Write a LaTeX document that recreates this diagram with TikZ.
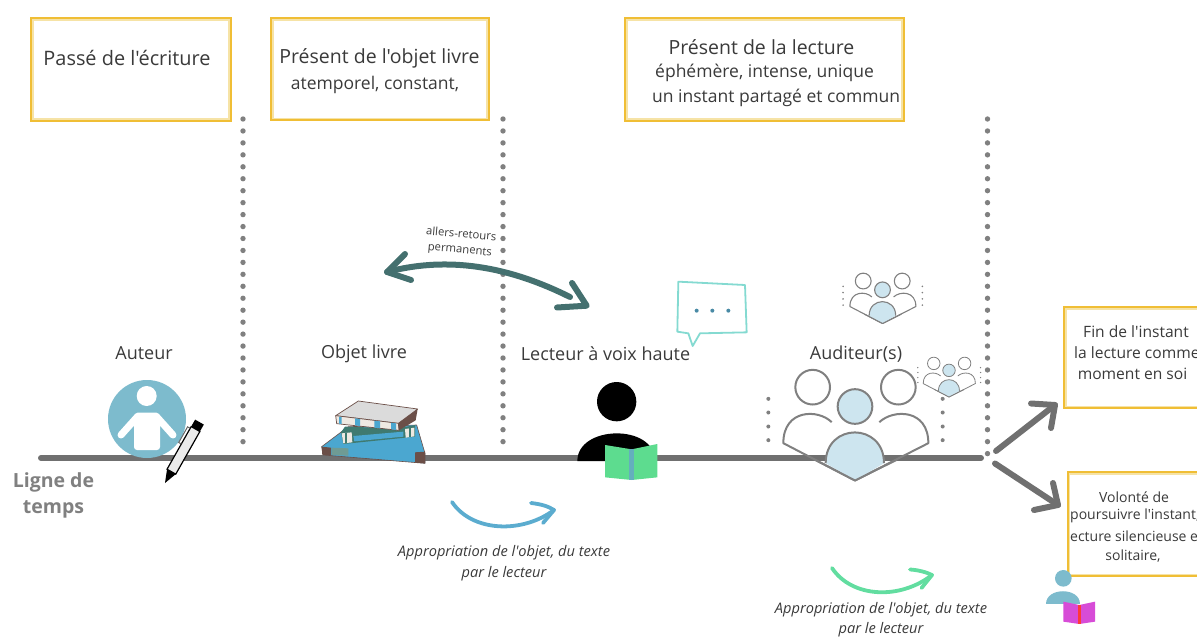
\documentclass[tikz,border=0pt]{standalone}
\usepackage{fontspec}
\setmainfont{Open Sans}[Ligatures=TeXOff]
\usetikzlibrary{calc}
\definecolor{gold}{HTML}{F0BE35}
\definecolor{paleg}{HTML}{F6E3A6}
\definecolor{ink}{HTML}{3A3A3A}
\definecolor{timeg}{HTML}{707070}
\definecolor{dotg}{HTML}{808080}
\definecolor{tealdark}{HTML}{44706F}
\definecolor{authorblue}{HTML}{7DBBCD}
\definecolor{iceblue}{HTML}{CDE5EF}
\definecolor{bookgreen}{HTML}{5DDC8F}
\definecolor{arrowblue}{HTML}{5BACCF}
\definecolor{arrowgreen}{HTML}{62DDA0}
\definecolor{bubble}{HTML}{84DAD1}
\definecolor{bookblue}{HTML}{4BA7D0}
\definecolor{bookbrown}{HTML}{6B4F48}
\definecolor{bookgrn}{HTML}{3F7A70}
\definecolor{bookpage}{HTML}{EFE9E2}
\tikzset{
  framebox/.style={draw=gold,line width=2.4pt,fill=white,inner sep=0pt,anchor=north west},
  innerframe/.style={draw=paleg,line width=1.6pt},
  boxtxt/.style={text=ink,font=\fontsize{19.5}{23}\selectfont,inner sep=0pt},
  subtxt/.style={text=ink,font=\fontsize{17.5}{20}\selectfont,inner sep=0pt},
  sidetxt/.style={text=ink,font=\fontsize{15.6}{18}\selectfont,inner sep=0pt},
  sidetxtb/.style={text=ink,font=\fontsize{14}{18}\selectfont,inner sep=0pt},
  lbl/.style={text=ink,font=\fontsize{18}{20}\selectfont,inner sep=0pt},
  note/.style={text=ink,font=\itshape\fontsize{14.6}{20.5}\selectfont,inner sep=0pt,align=center},
  dotline/.style={dotg,line width=5.4pt,line cap=round,dash pattern=on 0pt off 11.95pt},
  thick arrow/.style={line width=6pt,line cap=round,line join=round},
  curve arrow/.style={line width=3.8pt,line cap=round,line join=round},
}
\newcommand{\framedbox}[5]{% name x y w h
  \node[framebox,minimum width=#4pt,minimum height=#5pt] (#1) at (#2,#3) {};
  \draw[innerframe] ($(#1.north west)+(3pt,-2.8pt)$) rectangle ($(#1.south east)+(-3pt,2.8pt)$);
}
\newcommand{\audience}[4]{% x y(bottom tip) scale line width
  \begin{scope}[shift={(#1,#2)},x=#3pt/3,y=-#3pt/3,line width=#4pt]
    \draw[dotg] (-127,-280) circle[radius=52];
    \draw[dotg] (130,-280) circle[radius=52];
    \draw[dotg,line join=round] (-70,-175) .. controls (-110,-215) and (-215,-215) .. (-215,-112) -- (0,0) -- (220,-112) .. controls (220,-215) and (115,-215) .. (73,-175);
    \fill[iceblue] (-88,-52) .. controls (-88,-175) and (87,-175) .. (87,-52) -- (0,0) -- cycle;
    \draw[dotg] (-88,-52) .. controls (-88,-175) and (87,-175) .. (87,-52);
    \draw[dotg,line join=round] (-120,-62) -- (0,0) -- (125,-62);
    \draw[dotg,fill=iceblue] (0,-222) circle[radius=52];
    \foreach \yy in {-245,-204,-162,-121}{
      \fill[dotg] (-260,\yy) circle[radius=6];
      \fill[dotg] (263,\yy) circle[radius=6];
    }
  \end{scope}
}
\begin{document}
\begin{tikzpicture}[x=1pt,y=-1pt]
\useasboundingbox (0,0) rectangle (1197,637);
\clip (0,0) rectangle (1197,637);

% frames
\framedbox{passe}{30}{17.2}{199.5}{102}
\framedbox{objet}{270}{17.2}{217.5}{101.5}
\framedbox{lecture}{624}{17.2}{278.5}{102}
\framedbox{fin}{1063}{306}{150}{101}
\framedbox{volonte}{1066.5}{471}{150}{104}

\node[boxtxt,font=\fontsize{19.9}{23}\selectfont] (t1) at (127,58) {Passé de l'écriture};
\node[boxtxt] (t2) at (379.5,58.5) {Présent de l'objet livre};
\node[subtxt] (t2b) at (375,85) {atemporel, constant,};
\node[boxtxt] (t3) at (761.5,47.5) {Présent de la lecture};
\node[subtxt,anchor=west] (t3b) at (655,73) {éphémère, intense, unique};
\node[subtxt,anchor=west] (t3c) at (652,98) {un instant partagé et commun};

\node[sidetxt] (f1) at (1136,332) {Fin de l'instant};
\node[sidetxt,anchor=west] (f2) at (1074,353) {la lecture comme};
\node[sidetxt] (f3) at (1132.5,374) {moment en soi};
\node[sidetxtb] (v1) at (1134,497) {Volonté de};
\node[sidetxtb,anchor=west] (v2) at (1070,516) {poursuivre l'instant,};
\node[sidetxtb,anchor=west] (v3) at (1070,536) {ecture silencieuse e};
\node[sidetxtb] (v4) at (1133,556) {solitaire,};

% dotted verticals
\coordinate (d1a) at (243,119); \coordinate (d1b) at (243,452);
\coordinate (d2a) at (503,119); \coordinate (d2b) at (503,452);
\coordinate (d3a) at (987.5,119); \coordinate (d3b) at (987.5,464);
\draw[dotline] (d1a) -- (d1b);
\draw[dotline] (d2a) -- (d2b);
\draw[dotline] (d3a) -- (d3b);

% timeline
\coordinate (tl0) at (41,458); \coordinate (tl1) at (981,458);
\draw[timeg,line width=6pt,line cap=round] (tl0) -- (tl1);

% labels
\node[lbl] (auteur) at (144,353.5) {Auteur};
\node[lbl] (livre) at (364,354) {Objet livre};
\node[lbl] (lecteur) at (605.5,354) {Lecteur à voix haute};
\node[lbl] (auditeur) at (856,354) {Auditeur(s)};
\node[text=dotg,font=\bfseries\fontsize{19.5}{26}\selectfont,align=center,inner sep=0pt] (ligne) at (53.5,495) {Ligne de\\temps};

% author icon
\fill[authorblue] (147,419) circle[radius=39];
\fill[white] (146.7,396) circle[radius=10];
\draw[white,line width=7pt,line cap=round,line join=round] (121,435) -- (138,416) -- (156,416) -- (173,435);
\fill[white,rounded corners=3pt] (134,414) rectangle (160,450);

% pen
\begin{scope}[shift={(165,483)},rotate=60.5]
  \fill[black] (0,0) -- (13,-5) -- (13,5) -- cycle;
  \draw[black,fill=white!92!black,line width=1.2pt] (13,-5) rectangle (62,5);
  \fill[black] (62,-5) rectangle (70,5);
  \draw[black!60,line width=1pt] (42,-5) -- (42,-8) -- (60,-8) -- (60,-5);
\end{scope}

% books
\begin{scope}[shift={(315,395)},x=1pt/3,y=-1pt/3,line join=round]
  % bottom book
  \draw[fill=bookblue,draw=bookbrown,line width=.6pt] (20,155) -- (100,95) -- (305,90) -- (330,175) -- (330,205) -- (25,180) -- cycle;
  \fill[bookbrown] (20,155) -- (48,158) -- (48,182) -- (22,180) -- cycle;
  \fill[bookbrown] (300,172) -- (330,170) -- (330,205) -- (300,203) -- cycle;
  \fill[bookgrn!75!white] (50,158) -- (100,160) -- (100,182) -- (50,180) -- cycle;
  % middle book
  \fill[bookgrn] (90,95) -- (250,100) -- (300,90) -- (300,125) -- (85,147) -- (78,112) -- cycle;
  \fill[bookpage] (80,115) -- (110,112) -- (112,142) -- (85,145) -- cycle;
  \fill[bookpage] (270,102) -- (298,98) -- (298,124) -- (272,128) -- cycle;
  \fill[bookgrn] (91,113) rectangle (96,143);
  \fill[bookgrn] (283,100) rectangle (288,126);
  \fill[bookblue] (115,123) -- (265,110) -- (265,125) -- (118,139) -- cycle;
  % top book
  \draw[fill=black!14!white,draw=bookbrown,line width=.7pt] (62,62) -- (130,18) -- (308,42) -- (250,85) -- cycle;
  \draw[fill=bookpage,draw=bookbrown,line width=.7pt] (62,62) -- (250,85) -- (252,106) -- (65,86) -- cycle;
  \fill[bookbrown] (250,85) -- (308,42) -- (302,76) -- (252,106) -- cycle;
  \fill[bookblue] (120,70) -- (135,72) -- (135,93) -- (120,91) -- cycle;
  \fill[bookblue] (178,77) -- (195,79) -- (195,100) -- (178,98) -- cycle;
  \fill[bookblue] (228,83) -- (243,85) -- (243,105) -- (228,103) -- cycle;
  \fill[bookblue] (72,65) -- (80,66) -- (80,87) -- (72,86) -- cycle;
\end{scope}

% reader
\begin{scope}[shift={(560,260)},x=1pt/3,y=-1pt/3,line join=round]
  \fill[black] (170,425) circle[radius=59];
  \fill[black] (52,603) .. controls (52,495) and (285,490) .. (285,603) -- cycle;
  \fill[bookgreen] (135,555) -- (215,568) -- (292,552) -- (292,652) -- (215,660) -- (135,652) -- cycle;
  \fill[authorblue!80!teal] (207,566) rectangle (222,660);
  % speech bubble
  \draw[bubble,line width=1.8pt,line join=round] (355,65) -- (555,75) -- (560,217) -- (420,220) -- (398,258) -- (385,220) -- (352,215) -- cycle;
  \foreach \xx in {410,457,505}{\fill[arrowblue!80!black] (\xx,152) circle[radius=6];}
\end{scope}

% audiences
\audience{855}{480.5}{1}{2}
\audience{882.5}{323.5}{.455}{1.1}
\audience{949}{397}{.36}{.8}

% double arrow
\coordinate (dl) at (387,272); \coordinate (dr) at (570,297);
\draw[tealdark,thick arrow] (dl) .. controls (440,258) and (500,262) .. (dr);
\coordinate (dltop) at (405,254); \coordinate (dlbot) at (411,280);
\draw[tealdark,thick arrow] (dltop) -- (dl) -- (dlbot);
\coordinate (drtip) at (586.7,305.7); \coordinate (drtop) at (572,283); \coordinate (drbot) at (557,307.5);
\draw[tealdark,thick arrow] (drtop) -- (drtip) -- (drbot);
\node[text=ink,font=\fontsize{11.3}{15.5}\selectfont,align=center,rotate=-5,inner sep=0pt] (allers) at (460.5,242.5) {allers-retours\\permanents};

% blue & green arrows
\coordinate (ba) at (452,502); \coordinate (bb) at (554,510);
\draw[arrowblue,curve arrow] (ba) .. controls (472,532) and (522,534) .. (bb);
\coordinate (bc) at (531,503); \coordinate (bd) at (543,523);
\draw[arrowblue,curve arrow] (bc) .. controls (540,504) and (548,506) .. (bb) -- (bd);
\coordinate (ga) at (832,568); \coordinate (gb) at (932,575);
\draw[arrowgreen,curve arrow] (ga) .. controls (852,598) and (900,600) .. (gb);
\coordinate (gc) at (910,569.5); \coordinate (gd) at (921.5,588);
\draw[arrowgreen,curve arrow] (gc) .. controls (918,570) and (926,572) .. (gb) -- (gd);
\node[note] (n1) at (504,563) {Appropriation de l'objet, du texte\\par le lecteur};
\node[note] (n2) at (881,619.5) {Appropriation de l'objet, du texte\\par le lecteur};

% grey arrows
\coordinate (g0) at (996,451); \coordinate (g1) at (1055,405);
\coordinate (g1a) at (1031,403.5); \coordinate (g1b) at (1051,428);
\draw[timeg,thick arrow] (g0) -- (g1);
\draw[timeg,thick arrow] (g1a) -- (g1) -- (g1b);
\coordinate (h0) at (995,463.5); \coordinate (h1) at (1058,505);
\coordinate (h1a) at (1053,483); \coordinate (h1b) at (1034,510);
\draw[timeg,thick arrow] (h0) -- (h1);
\draw[timeg,thick arrow] (h1a) -- (h1) -- (h1b);

% small silent reader
\begin{scope}[shift={(960,290)},x=1pt/3,y=-1pt/3]
  \fill[authorblue] (310,865) circle[radius=25];
  \fill[authorblue] (258,941) .. controls (258,890) and (360,890) .. (360,941) -- cycle;
  \fill[violet!45!magenta!70!white] (310,935) -- (358,945) -- (405,935) -- (405,995) -- (358,1002) -- (310,995) -- cycle;
  \fill[red!70!pink] (354,945) rectangle (362,1002);
\end{scope}
\end{tikzpicture}
\end{document}
